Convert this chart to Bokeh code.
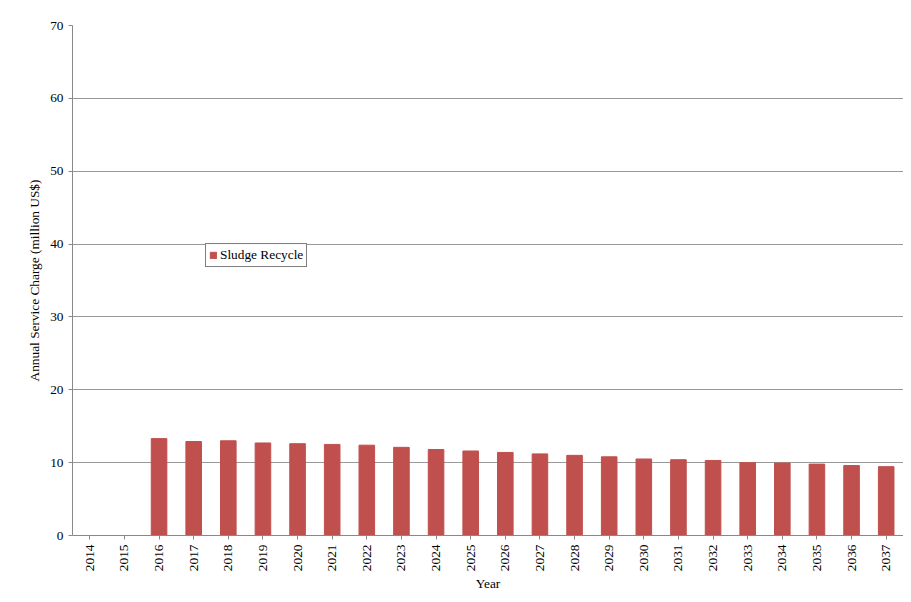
from bokeh.plotting import figure
from bokeh.embed import file_html
from bokeh.resources import INLINE
from bokeh.models import ColumnDataSource, Legend, LegendItem, FactorRange

years = [str(y) for y in range(2014, 2038)]
sludge = [0, 0, 13.3, 12.9, 13.0, 12.7, 12.6, 12.5, 12.4, 12.1, 11.8, 11.6,
          11.4, 11.2, 11.0, 10.8, 10.5, 10.4, 10.3, 10.0, 9.95, 9.8, 9.6, 9.45]

src = ColumnDataSource(dict(year=years, val=sludge))

p = figure(width=903, height=594, x_range=FactorRange(*years), y_range=(0, 70),
           output_backend="svg", toolbar_location=None,
           min_border_left=72, min_border_right=0, min_border_top=25, min_border_bottom=10)
r = p.vbar(x="year", top="val", width=0.45, source=src, color="#c0504d")

font = "Liberation Serif"
p.xaxis.axis_label = "Year"
p.yaxis.axis_label = "Annual Service Charge (million US$)"
for ax in (p.xaxis, p.yaxis):
    ax.axis_label_text_font = font
    ax.axis_label_text_font_style = "normal"
    ax.axis_label_text_font_size = "10pt"
    ax.axis_label_text_color = "black"
    ax.major_label_text_font = font
    ax.major_label_text_font_size = "10pt"
    ax.major_label_text_color = "black"
    ax.axis_line_color = "#888888"
    ax.major_tick_line_color = "#888888"
    ax.minor_tick_line_color = None
    ax.major_tick_in = 0
    ax.major_tick_out = 4
p.xaxis.major_label_orientation = 1.5708
p.xaxis.axis_label_standoff = 2
p.yaxis.ticker = list(range(0, 71, 10))
p.xgrid.grid_line_color = None
p.ygrid.grid_line_color = "#999999"
p.outline_line_color = None
p.border_fill_color = "white"

leg = Legend(items=[LegendItem(label="Sludge Recycle", renderers=[r])],
             location=(133, 268), label_text_font=font, label_text_font_size="10pt",
             label_text_color="black",
             border_line_color="black", padding=3, spacing=0, margin=0,
             glyph_width=8, glyph_height=8, label_standoff=3)
p.add_layout(leg, "center")

open("out.html", "w").write(file_html(p, INLINE))
